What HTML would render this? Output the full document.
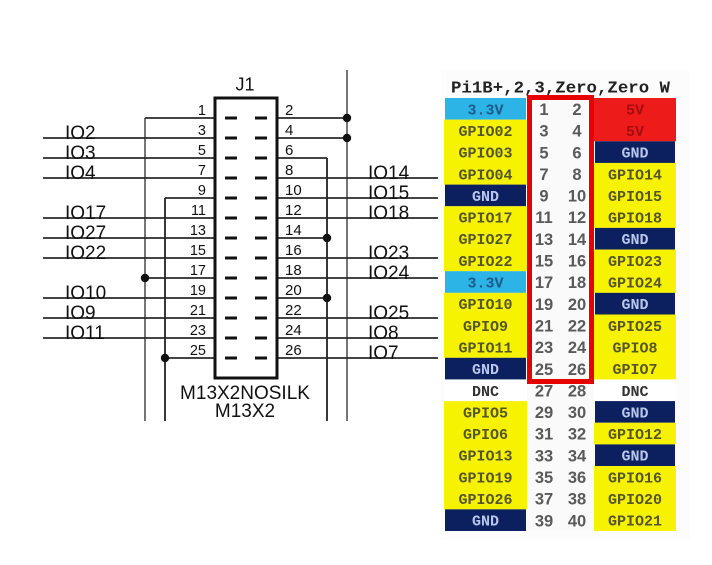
<!DOCTYPE html>
<html><head><meta charset="utf-8"><style>
html,body{margin:0;padding:0;background:#fff;}
svg{display:block;}
.s{font-family:"Liberation Sans",sans-serif;fill:#111;}
.m{font-family:"Liberation Mono",monospace;font-size:15px;font-weight:bold;text-anchor:middle;}
.n{font-family:"Liberation Sans",sans-serif;font-size:16.5px;font-weight:bold;fill:#5a5a5a;text-anchor:middle;}
</style></head><body>
<svg width="712" height="565" viewBox="0 0 712 565" xmlns="http://www.w3.org/2000/svg">
<rect width="712" height="565" fill="#fff"/>
<!-- ===== schematic ===== -->
<g stroke="#2a2a2a" stroke-width="1.8" fill="none">
<line x1="145" y1="118" x2="145" y2="421" stroke="#666"/>
<line x1="165" y1="198" x2="165" y2="421" stroke="#222"/>
<line x1="327" y1="158" x2="327" y2="421" stroke="#222"/>
<line x1="347" y1="70" x2="347" y2="421" stroke="#666"/>
<line x1="145" y1="118" x2="215" y2="118"/>
<line x1="43" y1="138" x2="215" y2="138"/>
<line x1="43" y1="158" x2="215" y2="158"/>
<line x1="43" y1="178" x2="215" y2="178"/>
<line x1="165" y1="198" x2="215" y2="198"/>
<line x1="43" y1="218" x2="215" y2="218"/>
<line x1="43" y1="238" x2="215" y2="238"/>
<line x1="43" y1="258" x2="215" y2="258"/>
<line x1="145" y1="278" x2="215" y2="278"/>
<line x1="43" y1="298" x2="215" y2="298"/>
<line x1="43" y1="318" x2="215" y2="318"/>
<line x1="43" y1="338" x2="215" y2="338"/>
<line x1="165" y1="358" x2="215" y2="358"/>
<line x1="277" y1="118" x2="347" y2="118"/>
<line x1="277" y1="138" x2="347" y2="138"/>
<line x1="277" y1="158" x2="327" y2="158"/>
<line x1="277" y1="178" x2="438" y2="178"/>
<line x1="277" y1="198" x2="438" y2="198"/>
<line x1="277" y1="218" x2="438" y2="218"/>
<line x1="277" y1="238" x2="327" y2="238"/>
<line x1="277" y1="258" x2="438" y2="258"/>
<line x1="277" y1="278" x2="438" y2="278"/>
<line x1="277" y1="298" x2="327" y2="298"/>
<line x1="277" y1="318" x2="438" y2="318"/>
<line x1="277" y1="338" x2="438" y2="338"/>
<line x1="277" y1="358" x2="438" y2="358"/>
</g>
<g stroke="#111" stroke-width="3">
<line x1="225" y1="118" x2="237" y2="118"/><line x1="255" y1="118" x2="267" y2="118"/>
<line x1="225" y1="138" x2="237" y2="138"/><line x1="255" y1="138" x2="267" y2="138"/>
<line x1="225" y1="158" x2="237" y2="158"/><line x1="255" y1="158" x2="267" y2="158"/>
<line x1="225" y1="178" x2="237" y2="178"/><line x1="255" y1="178" x2="267" y2="178"/>
<line x1="225" y1="198" x2="237" y2="198"/><line x1="255" y1="198" x2="267" y2="198"/>
<line x1="225" y1="218" x2="237" y2="218"/><line x1="255" y1="218" x2="267" y2="218"/>
<line x1="225" y1="238" x2="237" y2="238"/><line x1="255" y1="238" x2="267" y2="238"/>
<line x1="225" y1="258" x2="237" y2="258"/><line x1="255" y1="258" x2="267" y2="258"/>
<line x1="225" y1="278" x2="237" y2="278"/><line x1="255" y1="278" x2="267" y2="278"/>
<line x1="225" y1="298" x2="237" y2="298"/><line x1="255" y1="298" x2="267" y2="298"/>
<line x1="225" y1="318" x2="237" y2="318"/><line x1="255" y1="318" x2="267" y2="318"/>
<line x1="225" y1="338" x2="237" y2="338"/><line x1="255" y1="338" x2="267" y2="338"/>
<line x1="225" y1="358" x2="237" y2="358"/><line x1="255" y1="358" x2="267" y2="358"/>
</g>
<rect x="215" y="98" width="62" height="280" fill="none" stroke="#111" stroke-width="3"/>
<g fill="#111">
<circle cx="347" cy="118" r="4.2"/><circle cx="347" cy="138" r="4.2"/>
<circle cx="145" cy="278" r="4.2"/><circle cx="165" cy="358" r="4.2"/>
<circle cx="327" cy="238" r="4.2"/><circle cx="327" cy="298" r="4.2"/>
</g>
<text class="s" x="245" y="90.5" font-size="18" text-anchor="middle">J1</text>
<text class="s" x="245" y="399" font-size="19" text-anchor="middle">M13X2NOSILK</text>
<text class="s" x="245" y="417" font-size="19" text-anchor="middle">M13X2</text>
<g class="s" font-size="14.5" text-anchor="end">
<text x="206" y="115">1</text><text x="206" y="135">3</text><text x="206" y="155">5</text>
<text x="206" y="175">7</text><text x="206" y="195">9</text><text x="206" y="215">11</text>
<text x="206" y="235">13</text><text x="206" y="255">15</text><text x="206" y="275">17</text>
<text x="206" y="295">19</text><text x="206" y="315">21</text><text x="206" y="335">23</text>
<text x="206" y="355">25</text>
</g>
<g class="s" font-size="15">
<text x="285" y="115">2</text><text x="285" y="135">4</text><text x="285" y="155">6</text>
<text x="285" y="175">8</text><text x="285" y="195">10</text><text x="285" y="215">12</text>
<text x="285" y="235">14</text><text x="285" y="255">16</text><text x="285" y="275">18</text>
<text x="285" y="295">20</text><text x="285" y="315">22</text><text x="285" y="335">24</text>
<text x="285" y="355">26</text>
</g>
<g class="s" font-size="19">
<text x="65" y="139">IO2</text><text x="65" y="159">IO3</text><text x="65" y="179">IO4</text>
<text x="65" y="219">IO17</text><text x="65" y="239">IO27</text><text x="65" y="259">IO22</text>
<text x="65" y="299">IO10</text><text x="65" y="319">IO9</text><text x="65" y="339">IO11</text>
<text x="368" y="179">IO14</text><text x="368" y="199">IO15</text><text x="368" y="219">IO18</text>
<text x="368" y="259">IO23</text><text x="368" y="279">IO24</text><text x="368" y="319">IO25</text>
<text x="368" y="339">IO8</text><text x="368" y="359">IO7</text>
</g>

<!-- ===== Pi pinout table ===== -->
<rect x="441" y="70" width="249" height="470" fill="#fcfcfc"/>
<text x="451" y="92.5" font-family="Liberation Mono, monospace" font-weight="bold" font-size="17" fill="#222" textLength="219" lengthAdjust="spacingAndGlyphs">Pi1B+,2,3,Zero,Zero W</text>
<g>
<rect x="445" y="98" width="81" height="21.65" fill="#2cb4e6"/>
<rect x="444" y="119.65" width="83" height="65" fill="#f7f200"/>
<rect x="445" y="184.6" width="81" height="21.65" fill="#0c1f5e"/>
<rect x="444" y="206.25" width="83" height="65" fill="#f7f200"/>
<rect x="445" y="271.2" width="81" height="21.65" fill="#2cb4e6"/>
<rect x="444" y="292.85" width="83" height="65" fill="#f7f200"/>
<rect x="445" y="357.8" width="81" height="21.65" fill="#0c1f5e"/>
<rect x="444" y="379.45" width="83" height="21.65" fill="#ffffff"/>
<rect x="444" y="401.1" width="83" height="108.25" fill="#f7f200"/>
<rect x="445" y="509.35" width="81" height="21.65" fill="#0c1f5e"/>
</g>
<rect x="527" y="96" width="67" height="435" fill="#fafafa"/>
<g>
<rect x="594" y="98" width="82" height="43.3" fill="#ee1b1b"/>
<rect x="595" y="141.3" width="80" height="21.65" fill="#0c1f5e"/>
<rect x="594" y="162.95" width="82" height="64.95" fill="#f7f200"/>
<rect x="595" y="227.9" width="80" height="21.65" fill="#0c1f5e"/>
<rect x="594" y="249.55" width="82" height="43.3" fill="#f7f200"/>
<rect x="595" y="292.85" width="80" height="21.65" fill="#0c1f5e"/>
<rect x="594" y="314.5" width="82" height="64.95" fill="#f7f200"/>
<rect x="594" y="379.45" width="82" height="21.65" fill="#ffffff"/>
<rect x="595" y="401.1" width="80" height="21.65" fill="#0c1f5e"/>
<rect x="594" y="422.75" width="82" height="21.65" fill="#f7f200"/>
<rect x="595" y="444.4" width="80" height="21.65" fill="#0c1f5e"/>
<rect x="594" y="466.05" width="82" height="64.95" fill="#f7f200"/>
</g>
<g class="m" fill="#55552a">
<text x="485.5" y="114.3" fill="#1d5a8c">3.3V</text>
<text x="485.5" y="136">GPIO02</text>
<text x="485.5" y="157.6">GPIO03</text>
<text x="485.5" y="179.3">GPIO04</text>
<text x="485.5" y="200.9" fill="#b8c8ec">GND</text>
<text x="485.5" y="222.6">GPIO17</text>
<text x="485.5" y="244.2">GPIO27</text>
<text x="485.5" y="265.9">GPIO22</text>
<text x="485.5" y="287.5" fill="#1d5a8c">3.3V</text>
<text x="485.5" y="309.2">GPIO10</text>
<text x="485.5" y="330.8">GPIO9</text>
<text x="485.5" y="352.5">GPIO11</text>
<text x="485.5" y="374.1" fill="#b8c8ec">GND</text>
<text x="485.5" y="395.8" fill="#333">DNC</text>
<text x="485.5" y="417.4">GPIO5</text>
<text x="485.5" y="439.1">GPIO6</text>
<text x="485.5" y="460.7">GPIO13</text>
<text x="485.5" y="482.4">GPIO19</text>
<text x="485.5" y="504">GPIO26</text>
<text x="485.5" y="525.7" fill="#b8c8ec">GND</text>
</g>
<g class="m" fill="#55552a">
<text x="635" y="114.3" fill="#a80c0c">5V</text>
<text x="635" y="136" fill="#a80c0c">5V</text>
<text x="635" y="157.6" fill="#b8c8ec">GND</text>
<text x="635" y="179.3">GPIO14</text>
<text x="635" y="200.9">GPIO15</text>
<text x="635" y="222.6">GPIO18</text>
<text x="635" y="244.2" fill="#b8c8ec">GND</text>
<text x="635" y="265.9">GPIO23</text>
<text x="635" y="287.5">GPIO24</text>
<text x="635" y="309.2" fill="#b8c8ec">GND</text>
<text x="635" y="330.8">GPIO25</text>
<text x="635" y="352.5">GPIO8</text>
<text x="635" y="374.1">GPIO7</text>
<text x="635" y="395.8" fill="#333">DNC</text>
<text x="635" y="417.4" fill="#b8c8ec">GND</text>
<text x="635" y="439.1">GPIO12</text>
<text x="635" y="460.7" fill="#b8c8ec">GND</text>
<text x="635" y="482.4">GPIO16</text>
<text x="635" y="504">GPIO20</text>
<text x="635" y="525.7">GPIO21</text>
</g>
<g class="n">
<text x="544" y="115">1</text><text x="577" y="115">2</text>
<text x="544" y="136.6">3</text><text x="577" y="136.6">4</text>
<text x="544" y="158.3">5</text><text x="577" y="158.3">6</text>
<text x="544" y="179.9">7</text><text x="577" y="179.9">8</text>
<text x="544" y="201.6">9</text><text x="577" y="201.6">10</text>
<text x="544" y="223.2">11</text><text x="577" y="223.2">12</text>
<text x="544" y="244.9">13</text><text x="577" y="244.9">14</text>
<text x="544" y="266.5">15</text><text x="577" y="266.5">16</text>
<text x="544" y="288.2">17</text><text x="577" y="288.2">18</text>
<text x="544" y="309.8">19</text><text x="577" y="309.8">20</text>
<text x="544" y="331.5">21</text><text x="577" y="331.5">22</text>
<text x="544" y="353.1">23</text><text x="577" y="353.1">24</text>
<text x="544" y="374.8">25</text><text x="577" y="374.8">26</text>
<text x="544" y="396.4">27</text><text x="577" y="396.4">28</text>
<text x="544" y="418.1">29</text><text x="577" y="418.1">30</text>
<text x="544" y="439.7">31</text><text x="577" y="439.7">32</text>
<text x="544" y="461.4">33</text><text x="577" y="461.4">34</text>
<text x="544" y="483">35</text><text x="577" y="483">36</text>
<text x="544" y="504.7">37</text><text x="577" y="504.7">38</text>
<text x="544" y="526.3">39</text><text x="577" y="526.3">40</text>
</g>
<rect x="529.5" y="97.5" width="62" height="284" fill="none" stroke="#e60000" stroke-width="5"/>
</svg>
</body></html>
